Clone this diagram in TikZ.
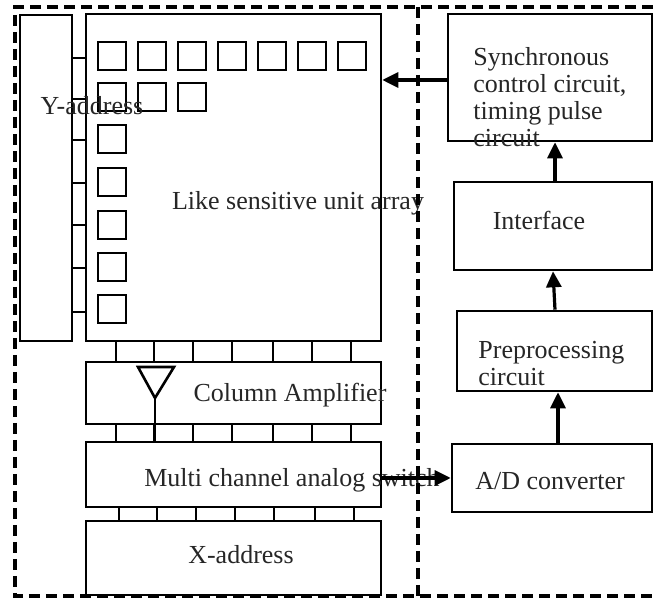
\documentclass[tikz,border=0pt]{standalone}
\usepackage{fontspec}
\setmainfont{Liberation Serif}
\usepackage{tikz}
\usetikzlibrary{
    positioning,
    arrows.meta
}

\begin{document}
\begin{tikzpicture}[
      x=0.5pt, y=-0.5pt,
      block/.style={rectangle, draw, line width=1.3pt, inner sep=0pt},
      cell/.style={rectangle, draw, line width=1.3pt, minimum size=14pt, inner sep=0pt},
      lbl/.style={font=\fontsize{13}{13.5}\selectfont, text=black!85, inner sep=0pt},
      tick/.style={line width=1.3pt},
      arrow/.style={-{Triangle[length=8pt,width=7.5pt]}, line width=1.6pt},
      frame/.style={dash pattern=on 5.5pt off 3pt, line width=1.6pt}
    ]
    \useasboundingbox (0,0) rectangle (654,598);

    % sensor chip
    \node[block, minimum width=26pt, minimum height=163pt] (yaddr) at (46,178) {};
    \node[block, minimum width=147.5pt, minimum height=163.5pt] (array) at (233.5,177.5) {};
    \node[block, minimum width=147.5pt, minimum height=31pt] (colamp) at (233.5,393) {};
    \node[block, minimum width=147.5pt, minimum height=32.5pt] (mux) at (233.5,474.5) {};
    \node[block, minimum width=147.5pt, minimum height=37pt] (xaddr) at (233.5,558) {};

    \foreach \i in {0,...,6}
      \node[cell] (c1\i) at (112+40*\i,56) {};
    \foreach \i in {0,1,2}
      \node[cell] (c2\i) at (112+40*\i,97) {};
    \foreach \y [count=\k] in {139,182,225,267,309}
      \node[cell] (cc\k) at (112,\y) {};

    \foreach \y in {58,99,140,183,225,268,312}
      \draw[tick] (yaddr.east |- 0,\y) -- (array.west |- 0,\y);
    \foreach \x in {116,154,193,232,273,312,351} {
      \draw[tick] (array.south -| \x,0) -- (colamp.north -| \x,0);
      \draw[tick] (colamp.south -| \x,0) -- (mux.north -| \x,0);
    }
    \foreach \x in {119,157,196,235,274,315,354}
      \draw[tick] (mux.south -| \x,0) -- (xaddr.north -| \x,0);

    \coordinate (amptip) at (155,398);
    \draw[tick, line join=miter] (138,367) -- (174,367) -- (amptip) -- cycle;
    \draw[tick] (amptip) -- (amptip |- mux.north);

    \node[lbl] (ylbl) at (92,106) {Y-address};
    \node[lbl] (albl) at (298,203) {Like sensitive unit array};
    \node[lbl] (clbl) at (290,395) {Column Amplifier};
    \node[lbl] (mlbl) at (292,480) {Multi channel analog switch};
    \node[lbl] (xlbl) at (241,555) {X-address};

    % processing chain
    \node[block, minimum width=102pt, minimum height=63.5pt] (sync) at (550,77.5) {};
    \node[block, minimum width=99pt, minimum height=44pt] (iface) at (553,226) {};
    \node[block, minimum width=97.5pt, minimum height=40pt] (prep) at (554.5,351) {};
    \node[block, minimum width=100pt, minimum height=34pt] (adc) at (552,478) {};

    \node[lbl, anchor=west, align=left] (slbl) at (473,97.5)
      {Synchronous\\control circuit,\\timing pulse\\circuit};
    \node[lbl] (ilbl) at (539,220) {Interface};
    \node[lbl, anchor=west, align=left] (plbl) at (478,364) {Preprocessing\\circuit};
    \node[lbl] (dlbl) at (550,481) {A/D converter};

    \draw[arrow] (sync.west |- 0,80) -- (array.east |- 0,80);
    \draw[arrow] (iface.north -| 555,0) -- (sync.south -| 555,0);
    \draw[arrow] (prep.north -| 555,0) -- (iface.south -| 553,0);
    \draw[arrow] (adc.north -| 558,0) -- (prep.south -| 558,0);
    \draw[arrow] (mux.east |- 0,478) -- (adc.west |- 0,478);

    \draw[frame] (653,7) -- (15,7) -- (15,596) -- (653,596);
    \draw[frame] (418,7) -- (418,596);
  \end{tikzpicture}
\end{document}
